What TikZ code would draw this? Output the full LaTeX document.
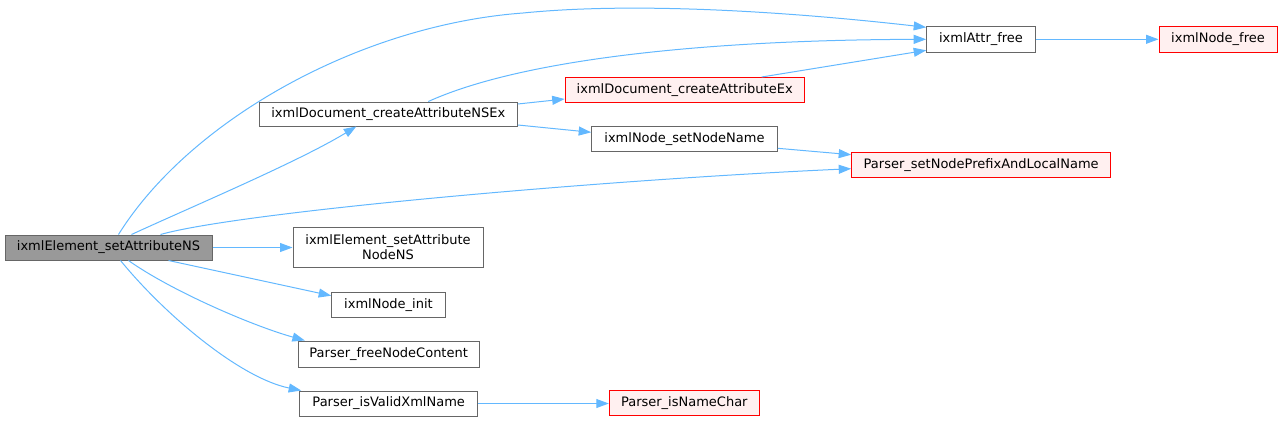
\documentclass[tikz,border=0pt]{standalone}
\usepackage{fontspec}
\setmainfont{DejaVu Sans}
\usetikzlibrary{arrows.meta}
\definecolor{edgec}{HTML}{63B8FF}
\definecolor{boxgray}{HTML}{666666}
\definecolor{mainfill}{HTML}{999999}
\definecolor{redfill}{HTML}{FFF0F0}
\tikzset{
  fn/.style={draw=boxgray, line width=1pt, fill=white, inner sep=0pt,
    minimum height=25pt, font=\fontsize{13}{15}\selectfont, align=center, text=black},
  mainfn/.style={fn, fill=mainfill},
  redfn/.style={fn, draw=red, fill=redfill},
  call/.style={draw=edgec, line width=1pt, -{Triangle[length=12.5pt,width=9pt]}},
}
\begin{document}
\begin{tikzpicture}[x=1pt,y=-1pt]
\useasboundingbox (0,0) rectangle (1283,421);
% nodes
\node[mainfn, minimum width=207pt] (main) at (108.5,247.5) {ixmlElement\_setAttributeNS};
\node[fn, minimum width=258pt, minimum height=24pt] (nsex) at (388.3,114) {ixmlDocument\_createAttributeNSEx};
\node[fn, minimum width=108.6pt, minimum height=26pt] (attrfree) at (981,39.3) {ixmlAttr\_free};
\node[redfn, minimum width=118pt, minimum height=26pt] (nodefree) at (1218,39.3) {ixmlNode\_free};
\node[redfn, minimum width=239pt] (attrex) at (684.7,90) {ixmlDocument\_createAttributeEx};
\node[fn, minimum width=185.6pt] (setname) at (684.5,139.3) {ixmlNode\_setNodeName};
\node[redfn, minimum width=259pt] (prefix) at (981.2,164.7) {Parser\_setNodePrefixAndLocalName};
\node[fn, minimum width=190pt, minimum height=40pt] (nodens) at (388,247.5) {ixmlElement\_setAttribute\\NodeNS};
\node[fn, minimum width=113.6pt] (nodeinit) at (388.5,304.7) {ixmlNode\_init};
\node[fn, minimum width=180.7pt, minimum height=26pt] (freenc) at (388.7,354) {Parser\_freeNodeContent};
\node[fn, minimum width=178pt] (isvalid) at (388.7,403.5) {Parser\_isValidXmlName};
\node[redfn, minimum width=150pt] (isnamechar) at (684.3,403) {Parser\_isNameChar};
% edges
\draw[call] ([xshift=10pt]main.north) .. controls (190,120) and (360,25) .. (523,13)
   .. controls (653,0) and (827,16) .. ([yshift=12pt]attrfree.west);
\draw[call] ([xshift=23pt]main.north) .. controls (190,207.5) and (298,162) .. ([xshift=-32pt]nsex.south);
\draw[call] ([xshift=52pt]main.north) .. controls (240,212) and (600,180) .. ([yshift=-4pt]prefix.west);
\draw[call] (main.east) -- (main.east -| nodens.west);
\draw[call] ([xshift=60pt]main.south) -- ([yshift=9pt]nodeinit.west);
\draw[call] ([xshift=20pt]main.south) .. controls (170,290) and (250,325) .. ([xshift=7pt]freenc.north west);
\draw[call] ([xshift=12pt]main.south) .. controls (165,315) and (240,378) .. ([xshift=2pt]isvalid.north west);
\draw[call] ([xshift=40pt]nsex.north) .. controls (520,60) and (700,40) .. (attrfree.west);
\draw[call] ([yshift=10pt]nsex.east) -- ([yshift=-9pt]attrex.west);
\draw[call] ([yshift=-11pt]nsex.east) -- ([yshift=7pt]setname.west);
\draw[call] ([xshift=77pt]attrex.north) -- ([yshift=-11pt]attrfree.west);
\draw[call] ([yshift=-9pt]setname.east) -- ([yshift=10pt]prefix.west);
\draw[call] (attrfree.east) -- (nodefree.west);
\draw[call] (isvalid.east) -- (isvalid.east -| isnamechar.west);
\end{tikzpicture}
\end{document}
